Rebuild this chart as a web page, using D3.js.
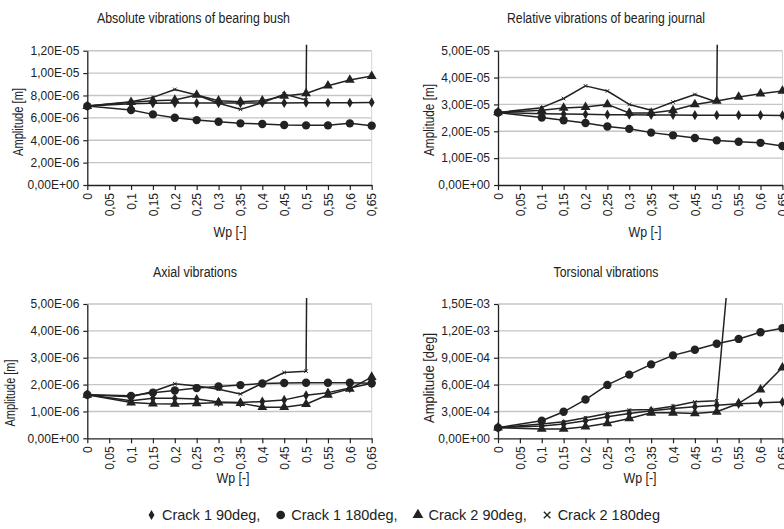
<!DOCTYPE html>
<html>
<head>
<meta charset="utf-8">
<script src="https://cdn.jsdelivr.net/npm/d3@7"></script>
<style>
  body { margin: 0; background: #fff; }
  svg text { font-family: "Liberation Sans", Arial, sans-serif; fill: #222; }
</style>
</head>
<body>
<div id="chart"></div>
<script>
var totWidth = 784;
var totHeight = 529;

//-- Data: Wp values where the curves were sampled
var wp = [0, 0.1, 0.15, 0.2, 0.25, 0.3, 0.35, 0.4, 0.45, 0.5, 0.55, 0.6, 0.65];
var wpCrack2_180 = [0, 0.1, 0.15, 0.2, 0.25, 0.3, 0.35, 0.4, 0.45, 0.5, 0.55];
var xTicks = [0, 0.05, 0.1, 0.15, 0.2, 0.25, 0.3, 0.35, 0.4, 0.45, 0.5, 0.55, 0.6, 0.65];

//-- Absolute vibrations of bearing bush [m]
var absC1_90  = [7.05e-6, 7.25e-6, 7.30e-6, 7.32e-6, 7.32e-6, 7.32e-6, 7.32e-6, 7.33e-6, 7.33e-6, 7.35e-6, 7.35e-6, 7.35e-6, 7.38e-6];
var absC1_180 = [7.05e-6, 6.70e-6, 6.31e-6, 6.01e-6, 5.80e-6, 5.65e-6, 5.51e-6, 5.45e-6, 5.36e-6, 5.33e-6, 5.33e-6, 5.51e-6, 5.30e-6];
var absC2_90  = [7.05e-6, 7.40e-6, 7.53e-6, 7.59e-6, 8.04e-6, 7.53e-6, 7.44e-6, 7.53e-6, 7.95e-6, 8.18e-6, 8.87e-6, 9.38e-6, 9.73e-6];
var absC2_180 = [7.05e-6, 7.44e-6, 7.83e-6, 8.54e-6, 8.04e-6, 7.30e-6, 6.76e-6, 7.35e-6, 8.12e-6, 7.59e-6, 2.5e-4];

//-- Relative vibrations of bearing journal [m]
var relC1_90  = [2.70e-5, 2.65e-5, 2.64e-5, 2.63e-5, 2.62e-5, 2.62e-5, 2.61e-5, 2.61e-5, 2.60e-5, 2.60e-5, 2.60e-5, 2.60e-5, 2.59e-5];
var relC1_180 = [2.70e-5, 2.51e-5, 2.41e-5, 2.31e-5, 2.18e-5, 2.09e-5, 1.95e-5, 1.85e-5, 1.75e-5, 1.66e-5, 1.61e-5, 1.57e-5, 1.45e-5];
var relC2_90  = [2.70e-5, 2.78e-5, 2.87e-5, 2.90e-5, 3.00e-5, 2.68e-5, 2.68e-5, 2.78e-5, 3.00e-5, 3.13e-5, 3.28e-5, 3.40e-5, 3.50e-5];
var relC2_180 = [2.70e-5, 2.88e-5, 3.22e-5, 3.69e-5, 3.50e-5, 3.00e-5, 2.78e-5, 3.09e-5, 3.37e-5, 3.09e-5, 1.0e-3];

//-- Axial vibrations [m]
var axC1_90  = [1.62e-6, 1.40e-6, 1.49e-6, 1.49e-6, 1.46e-6, 1.35e-6, 1.33e-6, 1.37e-6, 1.43e-6, 1.60e-6, 1.70e-6, 1.87e-6, 2.05e-6];
var axC1_180 = [1.62e-6, 1.58e-6, 1.70e-6, 1.78e-6, 1.87e-6, 1.93e-6, 1.98e-6, 2.04e-6, 2.06e-6, 2.07e-6, 2.07e-6, 2.07e-6, 2.05e-6];
var axC2_90  = [1.62e-6, 1.33e-6, 1.29e-6, 1.28e-6, 1.30e-6, 1.33e-6, 1.31e-6, 1.16e-6, 1.16e-6, 1.27e-6, 1.62e-6, 1.84e-6, 2.28e-6];
var axC2_180 = [1.62e-6, 1.55e-6, 1.74e-6, 2.03e-6, 1.95e-6, 1.83e-6, 1.65e-6, 2.05e-6, 2.45e-6, 2.50e-6, 1.2e-4];

//-- Torsional vibrations [deg]
var torC1_90  = [1.19e-4, 1.37e-4, 1.59e-4, 1.96e-4, 2.41e-4, 2.78e-4, 3.07e-4, 3.33e-4, 3.52e-4, 3.70e-4, 3.85e-4, 3.95e-4, 4.05e-4];
var torC1_180 = [1.19e-4, 1.96e-4, 2.96e-4, 4.33e-4, 5.96e-4, 7.11e-4, 8.26e-4, 9.26e-4, 9.89e-4, 1.056e-3, 1.11e-3, 1.185e-3, 1.23e-3];
var torC2_90  = [1.19e-4, 1.04e-4, 1.04e-4, 1.30e-4, 1.67e-4, 2.22e-4, 2.85e-4, 2.85e-4, 2.78e-4, 2.96e-4, 3.89e-4, 5.44e-4, 7.90e-4];
var torC2_180 = [1.19e-4, 1.59e-4, 1.85e-4, 2.30e-4, 2.78e-4, 3.15e-4, 3.22e-4, 3.59e-4, 4.07e-4, 4.19e-4, 3.1e-3];

//-- Labels and y ticks
var seriesNames = ["Crack 1 90deg,", "Crack 1 180deg,", "Crack 2 90deg,", "Crack 2 180deg"];
var panelTitles = ["Absolute vibrations of bearing bush", "Relative vibrations of bearing journal",
                   "Axial vibrations", "Torsional vibrations"];
var yLabels = ["Amplitude [m]", "Amplitude [m]", "Amplitude [m]", "Amplitude [deg]"];
var xLabel = "Wp [-]";
var yTicksAbs = [0, 2e-6, 4e-6, 6e-6, 8e-6, 1e-5, 1.2e-5];
var yTicksRel = [0, 1e-5, 2e-5, 3e-5, 4e-5, 5e-5];
var yTicksAx  = [0, 1e-6, 2e-6, 3e-6, 4e-6, 5e-6];
var yTicksTor = [0, 3e-4, 6e-4, 9e-4, 1.2e-3, 1.5e-3];

//-- Panel layout
var plotW = 284.4, plotH = 134.3;
var panels = [
  {title: panelTitles[0], yLab: yLabels[0], ticks: yTicksAbs, s: [absC1_90, absC1_180, absC2_90, absC2_180],
   left: 87.3, top: 50.7, tX: 193.5, tY: 22.5, tLen: 193, yLX: 23, yLY: 122, yLLen: 68, xLX: 230, xLY: 236.5},
  {title: panelTitles[1], yLab: yLabels[1], ticks: yTicksRel, s: [relC1_90, relC1_180, relC2_90, relC2_180],
   left: 498, top: 50.7, tX: 606, tY: 22.5, tLen: 198, yLX: 434, yLY: 120, yLLen: 72, xLX: 645, xLY: 236.5},
  {title: panelTitles[2], yLab: yLabels[2], ticks: yTicksAx, s: [axC1_90, axC1_180, axC2_90, axC2_180],
   left: 87.3, top: 304, tX: 195, tY: 276.5, tLen: 84, yLX: 14.5, yLY: 393, yLLen: 67, xLX: 233, xLY: 483},
  {title: panelTitles[3], yLab: yLabels[3], ticks: yTicksTor, s: [torC1_90, torC1_180, torC2_90, torC2_180],
   left: 498, top: 304, tX: 606, tY: 276.5, tLen: 105, yLX: 434, yLY: 378, yLLen: 90, xLX: 640, xLY: 483}
];

//-- Marker shapes per series
var markers = [
  {type: d3.symbolDiamond, size: 30, stroke: false},
  {type: d3.symbolCircle, size: 55, stroke: false},
  {type: d3.symbolTriangle, size: 42, stroke: false},
  {type: d3.symbolX, size: 10, stroke: true}
];
var ink = "#222";

//-- Excel-like scientific format with comma decimals
function fmtSci(v) {
  if (v === 0) return "0,00E+00";
  var e = Math.floor(Math.log10(v) + 1e-9);
  var m = (v / Math.pow(10, e)).toFixed(2).replace(".", ",");
  var sign = e < 0 ? "-" : "+";
  var ae = Math.abs(e);
  return m + "E" + sign + (ae < 10 ? "0" : "") + ae;
}
function fmtX(v) {
  return String(+v.toFixed(2)).replace(".", ",");
}

var svg = d3.select("#chart")
  .append("svg")
    .attr("width", totWidth)
    .attr("height", totHeight);

panels.forEach(function(p, pi) {
  var g = svg.append("g");
  var yMax = p.ticks[p.ticks.length - 1];

  var x = d3.scaleLinear().domain([0, 0.65]).range([p.left, p.left + plotW]);
  var y = d3.scaleLinear().domain([0, yMax]).range([p.top + plotH, p.top]);

  //-- gridlines
  g.selectAll("line.grid")
    .data(p.ticks.slice(1))
    .enter().append("line")
      .attr("x1", p.left).attr("x2", p.left + plotW)
      .attr("y1", function(d) { return y(d); })
      .attr("y2", function(d) { return y(d); })
      .attr("stroke", "#c6c6c6")
      .attr("stroke-width", 1.4);

  //-- faint right frame
  g.append("line")
    .attr("x1", p.left + plotW).attr("x2", p.left + plotW)
    .attr("y1", p.top).attr("y2", p.top + plotH)
    .attr("stroke", "#d4d4d4");

  //-- clip region for lines running off the top
  g.append("clipPath").attr("id", "clip" + pi)
    .append("rect")
      .attr("x", p.left - 10).attr("y", p.top - 6)
      .attr("width", plotW + 20).attr("height", plotH + 16);

  var line = d3.line()
    .x(function(d) { return x(d[0]); })
    .y(function(d) { return y(d[1]); });

  var lineG = g.append("g").attr("clip-path", "url(#clip" + pi + ")");

  p.s.forEach(function(vals, si) {
    var xs = si === 3 ? wpCrack2_180 : wp;
    var pts = vals.map(function(v, i) { return [xs[i], v]; });

    lineG.append("path")
      .datum(pts)
      .attr("fill", "none")
      .attr("stroke", ink)
      .attr("stroke-width", 1.5)
      .attr("stroke-linejoin", "round")
      .attr("d", line);

    var mk = markers[si];
    g.selectAll("path.m" + si)
      .data(pts.filter(function(d) { return d[1] <= yMax; }))
      .enter().append("path")
        .attr("class", "m" + si)
        .attr("transform", function(d) { return "translate(" + x(d[0]) + "," + y(d[1]) + ")"; })
        .attr("d", d3.symbol().type(mk.type).size(mk.size))
        .attr("fill", mk.stroke ? "none" : ink)
        .attr("stroke", mk.stroke ? ink : "none")
        .attr("stroke-width", 1);
  });

  //-- y axis
  var yAxis = d3.axisLeft(y)
    .tickValues(p.ticks)
    .tickSize(4)
    .tickSizeOuter(0)
    .tickPadding(4)
    .tickFormat(fmtSci);

  var ya = g.append("g")
    .attr("transform", "translate(" + p.left + ",0)")
    .call(yAxis)
    .attr("font-size", 12);
  ya.select(".domain").attr("stroke", ink).attr("stroke-width", 1.3);
  ya.selectAll(".tick line").attr("stroke", ink).attr("stroke-width", 1.2);

  //-- x axis
  var xAxis = d3.axisBottom(x)
    .tickValues(xTicks)
    .tickSize(5)
    .tickSizeOuter(0)
    .tickFormat(fmtX);

  var xa = g.append("g")
    .attr("transform", "translate(0," + (p.top + plotH) + ")")
    .call(xAxis)
    .attr("font-size", 12);
  xa.select(".domain").attr("stroke", ink).attr("stroke-width", 1.3);
  xa.selectAll(".tick line").attr("stroke", ink).attr("stroke-width", 1.2);
  xa.selectAll("text")
    .attr("transform", "rotate(-90)")
    .attr("x", -8)
    .attr("y", 0)
    .attr("dy", "0.35em")
    .style("text-anchor", "end");

  //-- titles and axis labels
  g.append("text")
    .attr("x", p.tX).attr("y", p.tY)
    .attr("text-anchor", "middle")
    .attr("font-size", 14)
    .attr("textLength", p.tLen)
    .attr("lengthAdjust", "spacingAndGlyphs")
    .text(p.title);

  g.append("text")
    .attr("transform", "translate(" + p.yLX + "," + p.yLY + ") rotate(-90)")
    .attr("text-anchor", "middle")
    .attr("font-size", 14)
    .attr("textLength", p.yLLen)
    .attr("lengthAdjust", "spacingAndGlyphs")
    .text(p.yLab);

  g.append("text")
    .attr("x", p.xLX).attr("y", p.xLY)
    .attr("text-anchor", "middle")
    .attr("font-size", 15)
    .attr("textLength", 33)
    .attr("lengthAdjust", "spacingAndGlyphs")
    .text(xLabel);
});

//-- Legend: symbol + label, spread between legStart and legEnd
var legStart = 147, legEnd = 660, legY = 520;
var legSizes = [30, 60, 50, 30];
var legG = svg.append("g");
var items = seriesNames.map(function(name, i) {
  var it = legG.append("g");
  var mk = markers[i];
  it.append("path")
    .attr("d", d3.symbol().type(mk.type).size(legSizes[i]))
    .attr("fill", mk.stroke ? "none" : ink)
    .attr("stroke", mk.stroke ? ink : "none")
    .attr("stroke-width", 1.3);
  var t = it.append("text")
    .attr("font-size", 14.5)
    .attr("y", 0)
    .text(name);
  return {g: it, t: t, w: t.node().getComputedTextLength()};
});
var symW = 9, symGap = 6;
var used = d3.sum(items, function(d) { return symW + symGap + d.w; });
var gap = (legEnd - legStart - used) / (items.length - 1);
var cx = legStart;
items.forEach(function(d) {
  d.g.select("path").attr("transform", "translate(" + (cx + symW / 2) + "," + (legY - 5) + ")");
  d.t.attr("x", cx + symW + symGap).attr("y", legY);
  cx += symW + symGap + d.w + gap;
});
</script>
</body>
</html>
